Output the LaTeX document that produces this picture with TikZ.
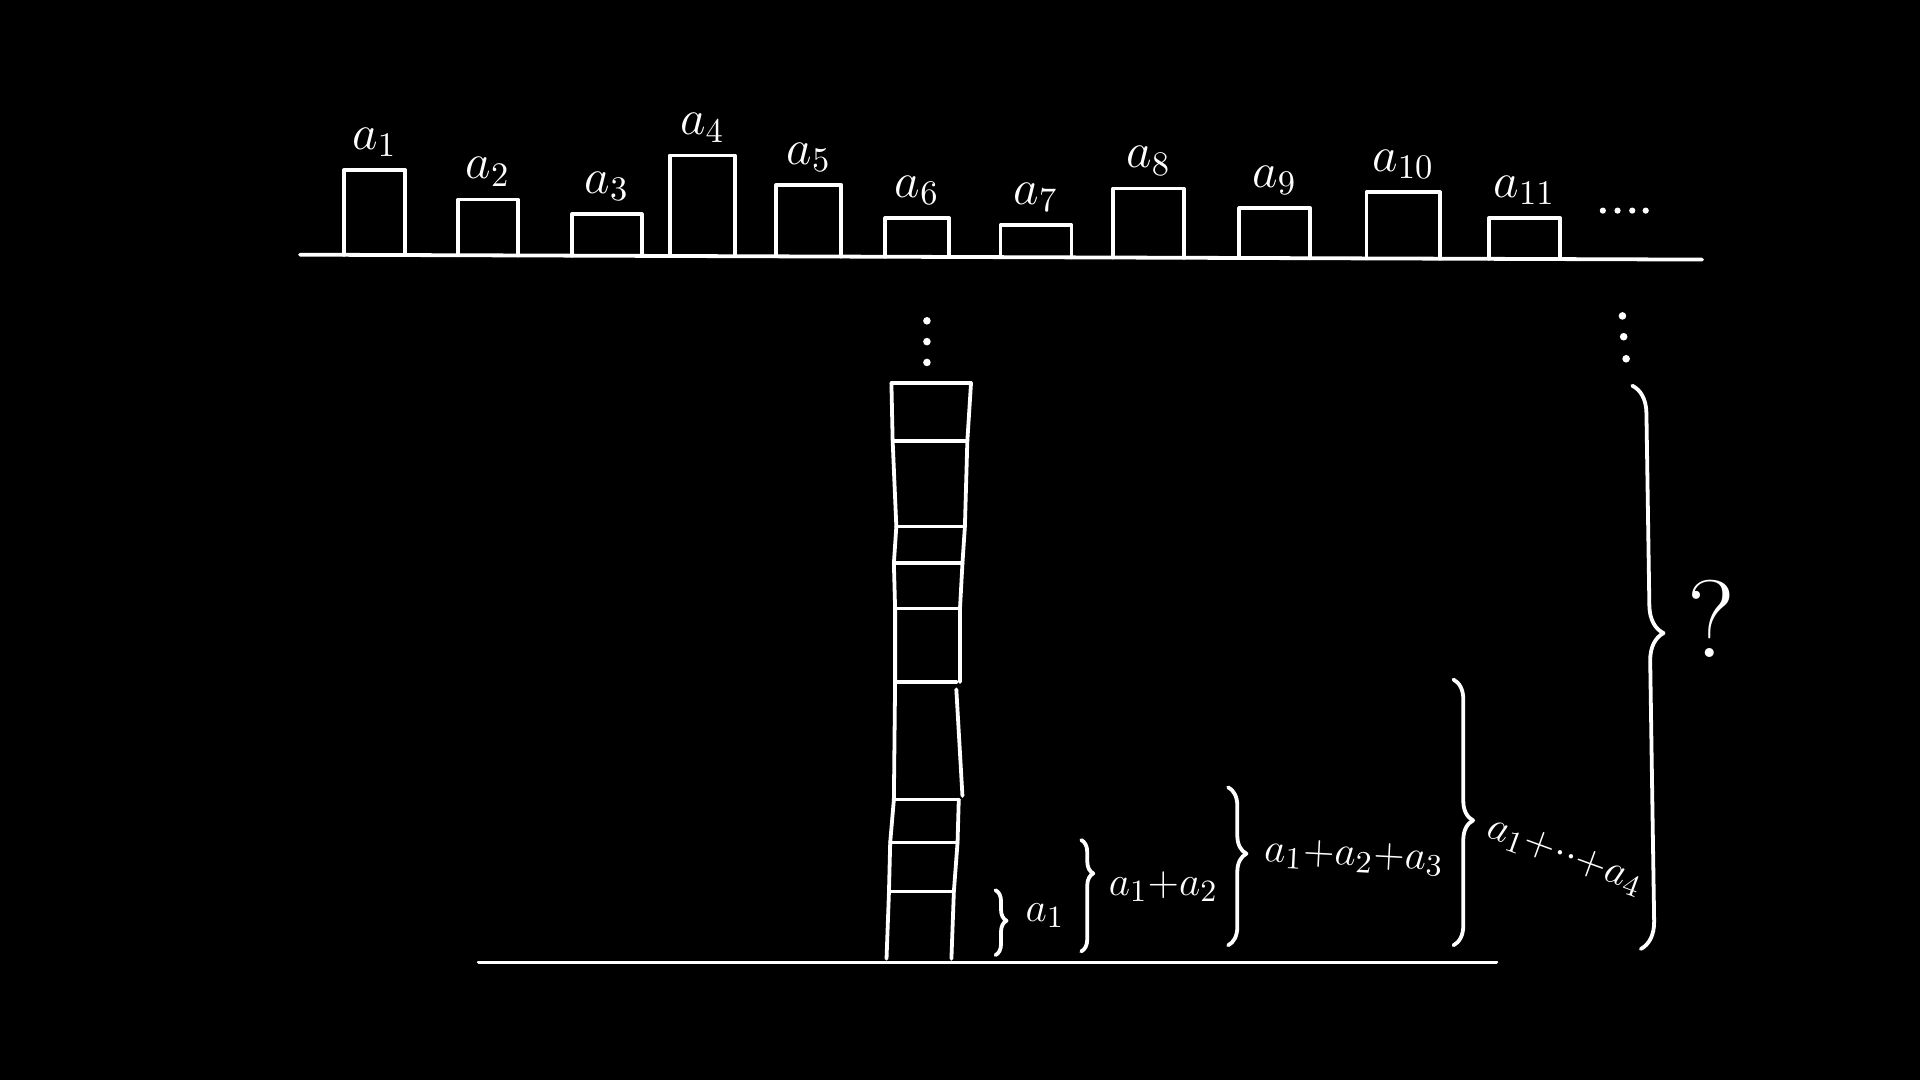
\documentclass[tikz,border=0pt]{standalone}
\usepackage{amsmath}
\usepackage{tikz}
\usetikzlibrary{decorations.pathreplacing}
\usetikzlibrary{positioning}

\begin{document}
\begin{tikzpicture}[x=0.0125cm, y=-0.0125cm, line width=1.1pt, line cap=round, line join=round,
  lab/.style={text=white, font=\fontsize{14}{16}\selectfont},
  sum/.style={text=white, font=\fontsize{13}{15}\selectfont, inner sep=0pt, anchor=west},
  brc/.style 2 args={decorate, decoration={brace, amplitude=#1, aspect=#2}}]
  \useasboundingbox (0,0) rectangle (1568,882);
  \fill[black] (0,0) rectangle (1568,882);
  \begin{scope}[white]
  % the row of terms
  \draw (245,208) -- (1390,212);
  \foreach \xl/\xr/\yt/\n in {281/331/139/1, 374/423/163/2, 467/524/175/3, 547/600/127/4,
    634/687/151/5, 723/775/178/6, 817/875/184/7, 909/967/154/8, 1012/1070/170/9,
    1116/1176/157/10, 1216/1274/178/11} {
    \draw (\xl,{208+(\xl-245)*0.0035}) -- (\xl,\yt) -- (\xr,\yt) -- (\xr,{208+(\xr-245)*0.0035});
    \node (a\n) [lab, above] at ({(\xl+\xr)/2},\yt) {$a_{\n}$};
  }
  \foreach \x in {1309,1321,1333,1344}
    \fill (\x,172) circle[radius=0.9pt];
  % the stacked tower
  \draw (391,786) -- (1222,786);
  \draw (728,313) -- (729,360) -- (732,430) -- (730,460) -- (731,497) -- (731,557)
    -- (730,653) -- (727,688) -- (726,728) -- (724,783);
  \draw (793,313) -- (790,360) -- (788,430) -- (786,460) -- (784,497) -- (784,557);
  \draw (781,563) -- (786,650);
  \draw (783,653) -- (782,688) -- (779,728) -- (777,783);
  \draw (728,313) -- (793,313);
  \draw (729,360) -- (790,360);
  \draw (732,430) -- (788,430);
  \draw (730,460) -- (786,460);
  \draw (731,497) -- (784,497);
  \draw (731,557) -- (781,557);
  \draw (730,653) -- (783,653);
  \draw (727,688) -- (782,688);
  \draw (726,728) -- (779,728);
  \foreach \y in {262,279,296}
    \fill (757,\y) circle[radius=1.1pt];
  \foreach \x/\y in {1325/258,1326/275,1328/293}
    \fill (\x,\y) circle[radius=1.1pt];
  % partial sums
  \coordinate (b1t) at (813,727);
  \coordinate (b1b) at (813,780);
  \coordinate (b2t) at (883,686);
  \coordinate (b2b) at (883,777);
  \coordinate (b3t) at (1003,643);
  \coordinate (b3b) at (1003,772);
  \coordinate (b4t) at (1187,555);
  \coordinate (b4b) at (1187,772);
  \coordinate (bqt) at (1333,315);
  \coordinate (bqb) at (1340,775);
  \draw[brc={3.2pt}{0.47}] (b1t) -- (b1b);
  \draw[brc={3.5pt}{0.3}] (b2t) -- (b2b);
  \draw[brc={5.3pt}{0.42}] (b3t) -- (b3b);
  \draw[brc={5.7pt}{0.53}] (b4t) -- (b4b);
  \draw[brc={8pt}{0.44}] (bqt) -- (bqb);
  \node (s1) [sum] at (836,748) {$a_1$};
  \node (s2) [sum] at (904,724) {$a_1{+}a_2$};
  \node (s3) [sum, rotate=-3] at (1031,696) {$a_1{+}a_2{+}a_3$};
  \node (s4) [sum, rotate=-20] at (1214,676) {$a_1{+}{\cdot}{\cdot}{+}a_4$};
  \node (q) [text=white, font=\fontsize{32}{36}\selectfont] at (1398,505) {?};
  \end{scope}
\end{tikzpicture}
\end{document}
